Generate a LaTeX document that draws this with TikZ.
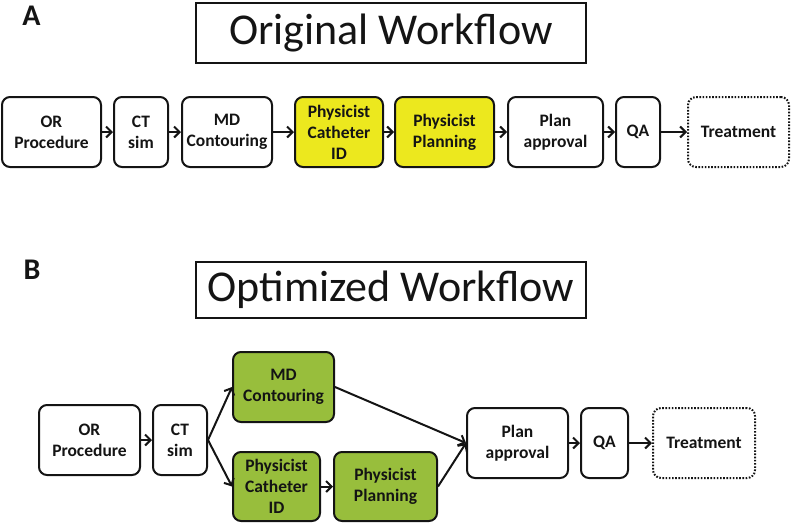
\documentclass[tikz,border=0pt]{standalone}
\usepackage{fontspec}
\setmainfont{Carlito}
\usetikzlibrary{arrows.meta}
\definecolor{hlyellow}{RGB}{236,232,30}
\definecolor{hlgreen}{RGB}{152,190,60}
\definecolor{ink}{RGB}{20,20,20}
\tikzset{
  stepbox/.style={draw=ink, line width=2pt, rounded corners=8pt, fill=white,
    align=center, inner sep=0pt, font=\fontsize{17.5}{21}\selectfont\bfseries, text=ink},
  yel/.style={stepbox, fill=hlyellow},
  grn/.style={stepbox, fill=hlgreen},
  dotbox/.style={stepbox, dash pattern=on 1.6pt off 1.6pt},
  titlebox/.style={draw=ink, line width=1.6pt, inner sep=0pt, font=\fontsize{44}{50}\selectfont, text=ink},
  panel/.style={font=\fontsize{30}{34}\selectfont\bfseries, text=ink},
  flow/.style={draw=ink, line width=2pt, -{Straight Barb[length=5.5pt,width=11pt,line width=2pt]}}
}
\begin{document}
\begin{tikzpicture}[x=1pt,y=-1pt]
\useasboundingbox (0,0) rectangle (791,523);
% Panel A
\node[panel] (labA) at (31.5,16) {A};
\node[titlebox, minimum width=390pt, minimum height=60pt] (titA) at (391,33) {Original Workflow};
\node[stepbox, minimum width=99pt, minimum height=70pt] (orA) at (51.5,132) {OR\\Procedure};
\node[stepbox, minimum width=54pt, minimum height=70pt] (ctA) at (141,132) {CT\\sim};
\node[stepbox, minimum width=90pt, minimum height=70pt] (mdA) at (227,132) {MD\\Contouring};
\node[yel, minimum width=88pt, minimum height=70pt] (catA) at (339,132) {Physicist\\Catheter\\ID};
\node[yel, minimum width=99pt, minimum height=70pt] (planA) at (444.5,132) {Physicist\\Planning};
\node[stepbox, minimum width=95pt, minimum height=70pt] (apprA) at (555.5,132) {Plan\\approval};
\node[stepbox, minimum width=44pt, minimum height=70pt] (qaA) at (638,132) {QA};
\node[dotbox, minimum width=101pt, minimum height=70pt] (trA) at (738.5,132) {Treatment};
\draw[flow] (orA) -- (ctA);
\draw[flow] (ctA) -- (mdA);
\draw[flow] (mdA) -- (catA);
\draw[flow] (catA) -- (planA);
\draw[flow] (planA) -- (apprA);
\draw[flow] (apprA) -- (qaA);
\draw[flow] (qaA) -- (trA);
% Panel B
\node[panel] (labB) at (32,270) {B};
\node[titlebox, minimum width=390pt, minimum height=56pt] (titB) at (391,290) {Optimized Workflow};
\node[stepbox, minimum width=101pt, minimum height=70pt] (orB) at (89.5,440) {OR\\Procedure};
\node[stepbox, minimum width=54pt, minimum height=70pt] (ctB) at (180,440) {CT\\sim};
\node[grn, minimum width=101pt, minimum height=70pt] (mdB) at (283.5,387) {MD\\Contouring};
\node[grn, minimum width=87pt, minimum height=69pt] (catB) at (276.5,486.5) {Physicist\\Catheter\\ID};
\node[grn, minimum width=103pt, minimum height=69pt] (planB) at (385.5,486.5) {Physicist\\Planning};
\node[stepbox, minimum width=101pt, minimum height=70pt] (apprB) at (517.5,443) {Plan\\approval};
\node[stepbox, minimum width=47pt, minimum height=70pt] (qaB) at (604.5,443) {QA};
\node[dotbox, minimum width=102pt, minimum height=70pt] (trB) at (704,443) {Treatment};
\draw[flow] (orB) -- (ctB);
\draw[flow] (ctB.east) -- (mdB.west);
\draw[flow] (ctB.east) -- (catB.west);
\draw[flow] (catB) -- (planB);
\draw[flow] (mdB.east) -- (apprB.west);
\draw[flow] (planB.east) -- (apprB.west);
\draw[flow] (apprB) -- (qaB);
\draw[flow] (qaB) -- (trB);
\end{tikzpicture}
\end{document}
